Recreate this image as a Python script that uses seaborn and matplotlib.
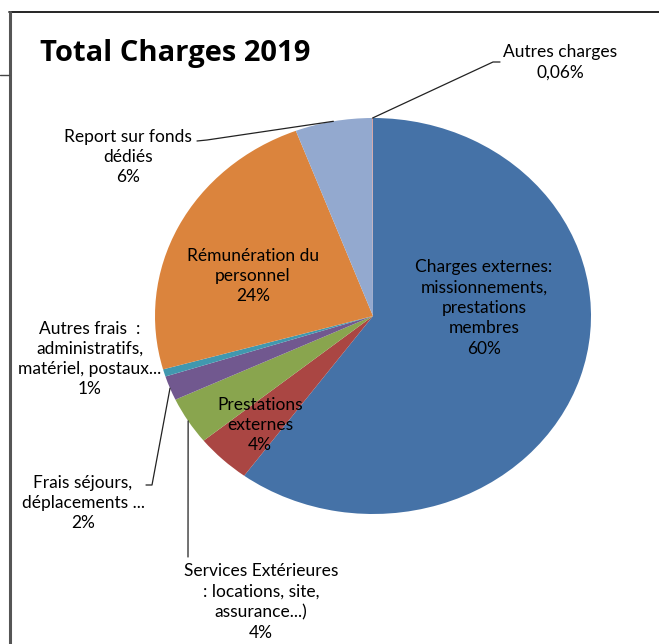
import matplotlib.pyplot as plt
import seaborn as sns
import numpy as np
from matplotlib.lines import Line2D

# slices, clockwise from 12 o'clock
categories = ["Charges externes", "Prestations externes", "Services Extérieures",
              "Frais séjours", "Autres frais", "Rémunération du personnel",
              "Report sur fonds dédiés", "Autres charges"]
shares = [60.1, 4.1, 3.9, 2.0, 0.6, 23.6, 5.7, 0.06]
labels = [
    "Charges externes:\nmissionnements,\nprestations\nmembres\n60%",
    "Prestations\nexternes\n4%",
    "Services Extérieures\n: locations, site,\nassurance...)\n4%",
    "Frais séjours,\ndéplacements ...\n2%",
    "Autres frais  :\nadministratifs,\nmatériel, postaux...\n1%",
    "Rémunération du\npersonnel\n24%",
    "Report sur fonds\ndédiés\n6%",
    "Autres charges\n0,06%",
]
colors = ["#4572A7", "#AA4643", "#89A54E", "#71588F", "#4198AF",
          "#DB843D", "#93A9CF", "#D19392"]

W, H = 659, 644


def fig_xy(x, y):
    # pixel position (from top-left) -> figure fraction
    return x / W, 1 - y / H


sns.set_theme(style="white")
plt.rcParams["font.family"] = ["Lato", "DejaVu Sans"]

fig = plt.figure(figsize=(W / 100, H / 100), dpi=100)
cx, cy, rx, ry = 373, 316, 218, 198
ax = fig.add_axes([(cx - rx) / W, (H - cy - ry) / H, 2 * rx / W, 2 * ry / H])
wedges, _ = ax.pie(shares, colors=colors, startangle=90, counterclock=False,
                   wedgeprops=dict(linewidth=0))
ax.set_aspect("auto")
ax.set_xlim(-1, 1)
ax.set_ylim(-1, 1)
ax.axis("off")

# label block centres (px) and optional leader path (px, ends at the wedge)
label_pos = [(484, 308), (260, 425), (261, 602), (83, 503),
             (90, 359), (253, 276), (128, 157), (560, 62)]
leaders = {
    2: [(188, 557)],
    3: [(146, 485), (152, 485)],
    6: [(197, 141), (207, 140)],
    7: [(500, 62), (493, 62)],
}

for i, (lab, (x, y)) in enumerate(zip(labels, label_pos)):
    fx, fy = fig_xy(x, y)
    fig.text(fx, fy, lab, ha="center", va="center", multialignment="center",
             fontsize=12.5, color="black", linespacing=1.33)

to_fig = fig.transFigure.inverted()
for i, pts in leaders.items():
    w = wedges[i]
    mid = np.deg2rad((w.theta1 + w.theta2) / 2)
    end = to_fig.transform(ax.transData.transform((np.cos(mid), np.sin(mid))))
    xs = [fig_xy(*p)[0] for p in pts] + [end[0]]
    ys = [fig_xy(*p)[1] for p in pts] + [end[1]]
    fig.add_artist(Line2D(xs, ys, transform=fig.transFigure, color="#222222", lw=0.9))

fx, fy = fig_xy(40, 54)
fig.text(fx, fy, "Total Charges 2019", ha="left", va="center",
         fontsize=21, fontweight="bold", color="black", family=["Open Sans", "DejaVu Sans"])

# chart frame
fig.add_artist(Line2D([9 / W, 1], [1 - 12 / H] * 2, transform=fig.transFigure,
                      color="black", lw=1.2))
fig.add_artist(Line2D([9.5 / W] * 2, [1 - 12 / H, 0], transform=fig.transFigure,
                      color="#555555", lw=2.2))
fig.add_artist(Line2D([0, 9 / W], [1 - 75 / H] * 2, transform=fig.transFigure,
                      color="#444444", lw=1.0))

fig.savefig("out.png", dpi=100)
